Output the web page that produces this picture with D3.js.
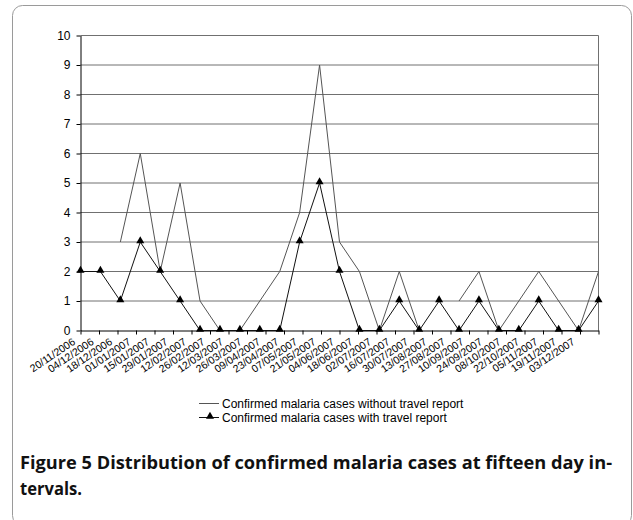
<!DOCTYPE html>
<html>
<head>
<meta charset="utf-8">
<script src="https://cdn.jsdelivr.net/npm/d3@7"></script>
<style>
  html, body { margin: 0; padding: 0; background: #fff; }
  svg { display: block; }
</style>
</head>
<body>
<svg id="chart" width="633" height="520"></svg>
<script>
// ---- data ----
const dateLabels = ["20/11/2006","04/12/2006","18/12/2006","01/01/2007","15/01/2007","29/01/2007",
  "12/02/2007","26/02/2007","12/03/2007","26/03/2007","09/04/2007","23/04/2007","07/05/2007",
  "21/05/2007","04/06/2007","18/06/2007","02/07/2007","16/07/2007","30/07/2007","13/08/2007",
  "27/08/2007","10/09/2007","24/09/2007","08/10/2007","22/10/2007","05/11/2007","19/11/2007","03/12/2007"];
const withoutTravel = [null,null,3,6,2,5,1,0,0,1,2,4,9,3,2,0,2,0,null,1,2,0,1,2,1,0,2];
const withTravel    = [2,2,1,3,2,1,0,0,0,0,0,3,5,2,0,0,1,0,1,0,1,0,0,1,0,0,1];
const yTicks = [0,1,2,3,4,5,6,7,8,9,10];
const seriesNames = ["Confirmed malaria cases without travel report","Confirmed malaria cases with travel report"];
const captionBold = "Figure 5";
const captionLine1 = " Distribution of confirmed malaria cases at fifteen day in-";
const captionLine2 = "tervals.";

// ---- drawing ----
const svg = d3.select("#chart");
const L = 80.5, R = 598.5, T = 35.5, B = 330.5;
const FONT = "'Liberation Sans', Arial, sans-serif";

// outer frame
svg.append("rect").attr("x", 12.5).attr("y", 5.5).attr("width", 619).attr("height", 520)
  .attr("rx", 10).attr("fill", "none").attr("stroke", "#9a9a9a").attr("stroke-width", 1);

const y = d3.scaleLinear().domain([0, 10]).range([B, T]);
const xTick = d3.scaleLinear().domain([0, dateLabels.length]).range([L, R]);
const xData = d3.scalePoint().domain(d3.range(withTravel.length)).range([L, R]);

// gridlines
svg.append("g").selectAll("line").data(yTicks.filter(d => d > 0)).join("line")
  .attr("x1", L).attr("x2", R).attr("y1", d => y(d)).attr("y2", d => y(d))
  .attr("stroke", "#707070").attr("stroke-width", 1);
// right border
svg.append("line").attr("x1", R).attr("x2", R).attr("y1", T).attr("y2", B)
  .attr("stroke", "#707070");

// y axis
const yAxis = svg.append("g").attr("transform", `translate(${L},0)`)
  .call(d3.axisLeft(y).tickValues(yTicks).tickSize(4).tickPadding(6).tickSizeOuter(0));
yAxis.select(".domain").attr("stroke", "#000");
yAxis.selectAll("line").attr("stroke", "#000");
yAxis.selectAll("text").attr("font-family", FONT)
  .attr("font-size", 12).attr("fill", "#000");

// x axis
const xAxis = svg.append("g").attr("transform", `translate(0,${B})`)
  .call(d3.axisBottom(xTick).tickValues(d3.range(dateLabels.length + 1))
    .tickFormat(i => dateLabels[i] || "").tickSize(4).tickSizeOuter(0));
xAxis.select(".domain").attr("stroke", "#000");
xAxis.selectAll("line").attr("stroke", "#000");
xAxis.selectAll("text")
  .attr("font-family", FONT).attr("font-size", 10.5)
  .attr("fill", "#000").attr("text-anchor", "end")
  .attr("transform", "translate(-5,13) rotate(-34)").attr("dy", 0).attr("y", 0).attr("x", 0);

// series lines
const line = d3.line().defined(d => d.v !== null).x(d => xData(d.i)).y(d => y(d.v));
svg.append("path").datum(withoutTravel.map((v, i) => ({i, v})))
  .attr("d", line).attr("fill", "none").attr("stroke", "#555").attr("stroke-width", 1);
svg.append("path").datum(withTravel.map((v, i) => ({i, v})))
  .attr("d", line).attr("fill", "none").attr("stroke", "#111").attr("stroke-width", 1);

const tri = d3.symbol().type(d3.symbolTriangle).size(28);
svg.append("g").selectAll("path").data(withTravel.map((v, i) => ({i, v}))).join("path")
  .attr("d", tri).attr("transform", d => `translate(${xData(d.i)},${y(d.v) - 1})`)
  .attr("fill", "#000");

// legend
const lg = svg.append("g");
const ly = [403, 417];
lg.append("line").attr("x1", 199).attr("x2", 219).attr("y1", ly[0] + 0.5).attr("y2", ly[0] + 0.5)
  .attr("stroke", "#555");
lg.append("line").attr("x1", 199).attr("x2", 219).attr("y1", ly[1] + 0.5).attr("y2", ly[1] + 0.5)
  .attr("stroke", "#111");
lg.append("path").attr("d", tri).attr("transform", `translate(210,${ly[1] - 0.5})`).attr("fill", "#000");
lg.selectAll("text").data(seriesNames).join("text")
  .attr("x", 222).attr("y", (d, i) => ly[i] + 4.5)
  .attr("font-family", FONT).attr("font-size", 12)
  .attr("fill", "#000").text(d => d);

// caption
const cap = svg.append("text").attr("x", 20).attr("y", 469)
  .attr("font-family", "'Open Sans', 'Noto Sans', sans-serif").attr("font-size", 17)
  .attr("font-weight", "bold").attr("fill", "#111")
  .attr("textLength", 592).attr("lengthAdjust", "spacingAndGlyphs");
cap.append("tspan").text(captionBold);
cap.append("tspan").text(captionLine1);
svg.append("text").attr("x", 20).attr("y", 495)
  .attr("font-family", "'Open Sans', 'Noto Sans', sans-serif").attr("font-size", 17)
  .attr("font-weight", "bold").attr("fill", "#111")
  .attr("textLength", 62).attr("lengthAdjust", "spacingAndGlyphs").text(captionLine2);
</script>
</body>
</html>
